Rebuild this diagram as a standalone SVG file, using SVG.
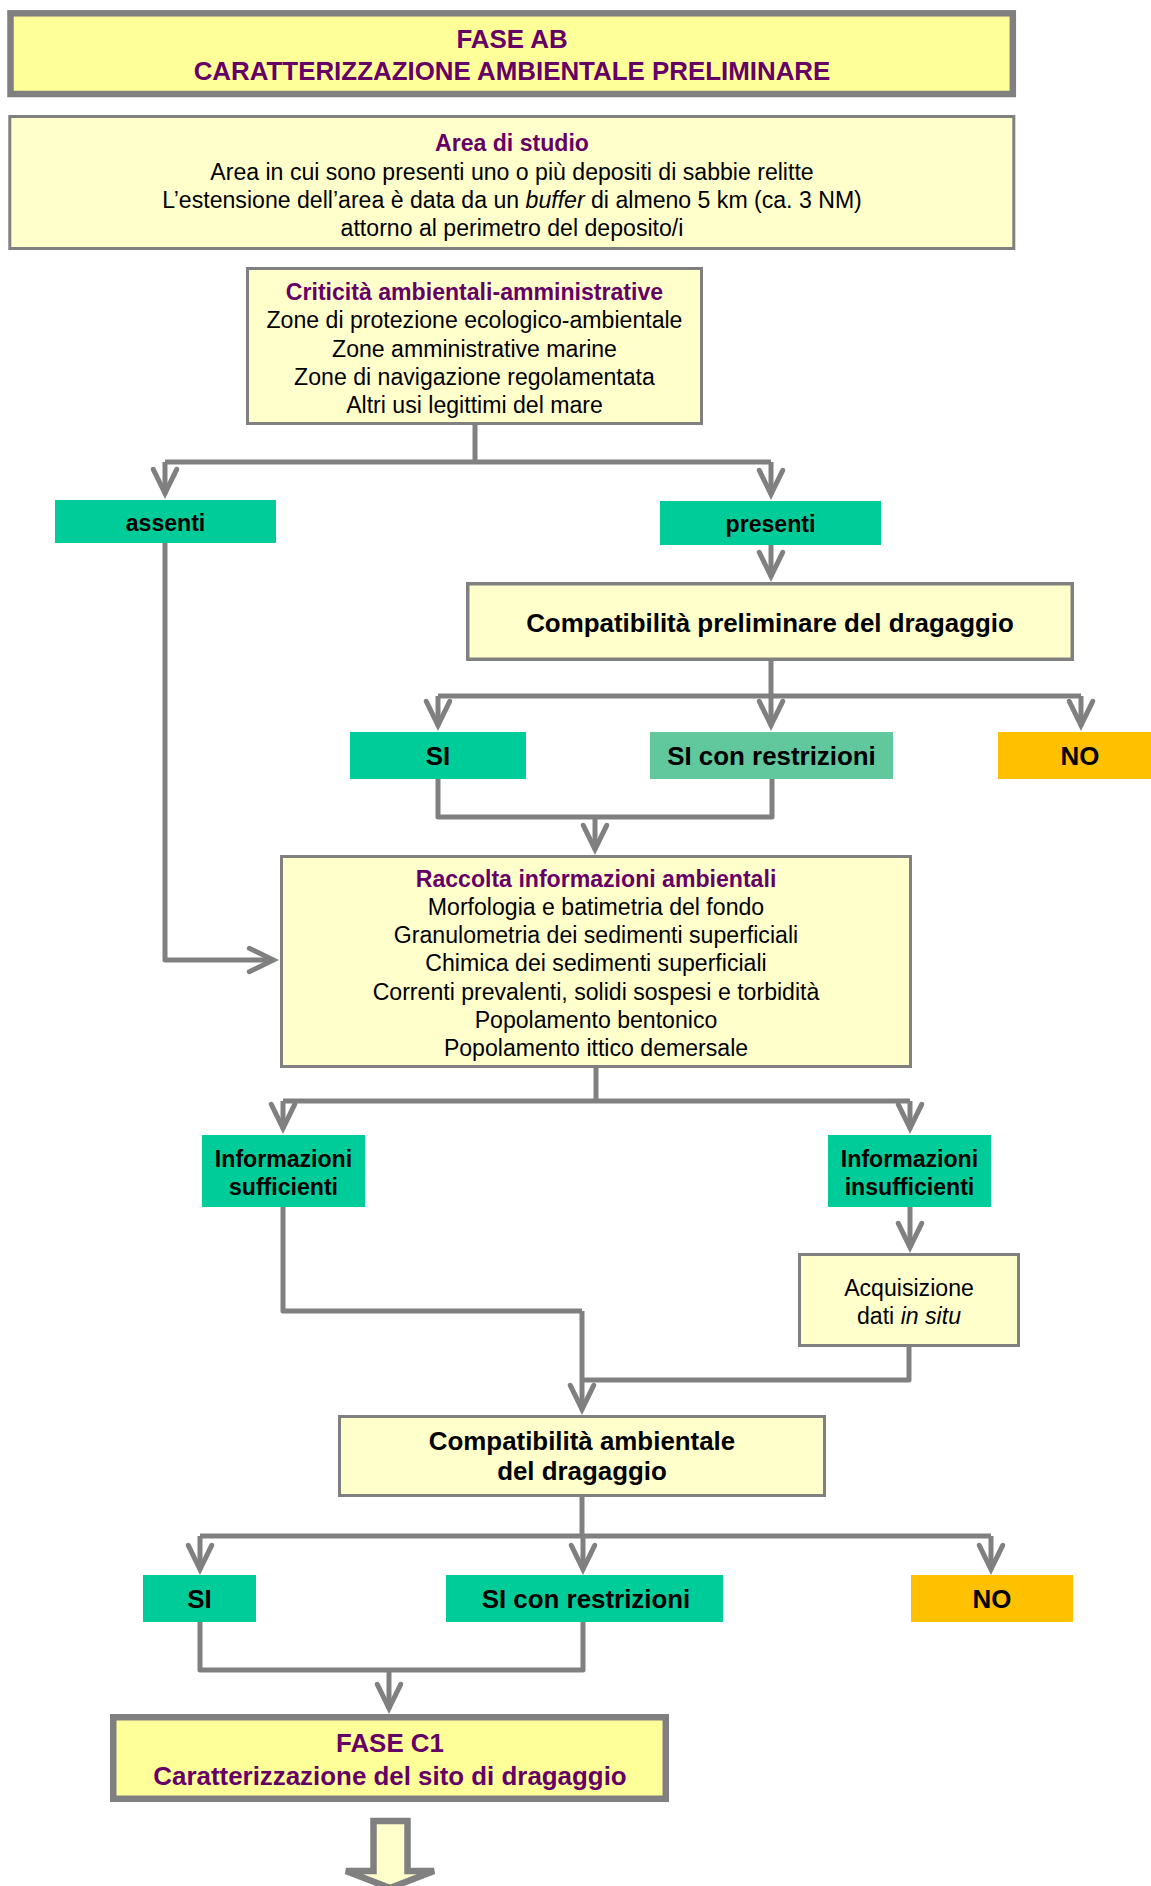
<svg xmlns="http://www.w3.org/2000/svg" width="1151" height="1886" viewBox="0 0 1151 1886">
<style>
text{font-family:"Liberation Sans",Arial,sans-serif;text-anchor:middle;fill:#000}
.b{font-weight:bold}
.p{fill:#660066}
.t{font-size:25.9px}
.r{font-size:23.1px}
.i{font-style:italic}
.big{fill:#FFFF99;stroke:#808080;stroke-width:6.5}
.box{fill:#FFFFCC;stroke:#808080;stroke-width:3}
.g{fill:#00CC99}
.lg{fill:#60C89C}
.o{fill:#FFC000}
.c{fill:none;stroke:#808080;stroke-width:5;stroke-linejoin:round}
.a{marker-end:url(#ah)}
</style>
<defs>
<marker id="ah" markerUnits="userSpaceOnUse" orient="auto" refX="0" refY="0" markerWidth="40" markerHeight="40" overflow="visible">
<path d="M-24.7,-11.7 L-0.7,0 L-24.7,11.7" fill="none" stroke="#808080" stroke-width="5" stroke-linecap="round" stroke-linejoin="miter"/>
</marker>
</defs>
<rect width="1151" height="1886" fill="#fff"/>

<g id="connectors">
<path class="c" d="M475,425 V462"/>
<path class="c" d="M165,462 H771"/>
<path class="c a" d="M165,462 V494"/>
<path class="c a" d="M771,462 V495"/>
<path class="c a" d="M771,545 V577"/>
<path class="c" d="M771,661 V696"/>
<path class="c" d="M438,696 H1081"/>
<path class="c a" d="M438,696 V726"/>
<path class="c a" d="M771,696 V726"/>
<path class="c a" d="M1081,696 V726"/>
<path class="c" d="M438,779 V817 H772 V779"/>
<path class="c a" d="M595,817 V850"/>
<path class="c a" d="M165,543 V960 H274"/>
<path class="c" d="M596,1068 V1101"/>
<path class="c" d="M283,1101 H910"/>
<path class="c a" d="M283,1101 V1129"/>
<path class="c a" d="M910,1101 V1129"/>
<path class="c a" d="M910,1207 V1248"/>
<path class="c" d="M283,1207 V1311 H582"/>
<path class="c a" d="M582,1311 V1410"/>
<path class="c" d="M909,1347 V1380 H582"/>
<path class="c" d="M582,1497 V1536"/>
<path class="c" d="M200,1536 H991"/>
<path class="c a" d="M200,1536 V1570"/>
<path class="c a" d="M583,1536 V1570"/>
<path class="c a" d="M991,1536 V1570"/>
<path class="c" d="M200,1622 V1670 H583 V1622"/>
<path class="c a" d="M389,1670 V1709"/>
</g>

<g id="fase-ab">
<rect class="big" x="10.5" y="13.3" width="1002.3" height="80.7"/>
<text class="b p t" x="512" y="48">FASE AB</text>
<text class="b p t" x="512" y="80">CARATTERIZZAZIONE AMBIENTALE PRELIMINARE</text>
</g>

<g id="area-studio">
<rect class="box" x="9.8" y="116.5" width="1004" height="132"/>
<text class="b p r" x="512" y="151">Area di studio</text>
<text class="r" x="512" y="180">Area in cui sono presenti uno o più depositi di sabbie relitte</text>
<text class="r" x="512" y="208">L’estensione dell’area è data da un <tspan class="i">buffer</tspan> di almeno 5 km (ca. 3 NM)</text>
<text class="r" x="512" y="236">attorno al perimetro del deposito/i</text>
</g>

<g id="criticita">
<rect class="box" x="247.5" y="268.5" width="454" height="155"/>
<text class="b p r" x="474.5" y="300">Criticità ambientali-amministrative</text>
<text class="r" x="474.5" y="328">Zone di protezione ecologico-ambientale</text>
<text class="r" x="474.5" y="357">Zone amministrative marine</text>
<text class="r" x="474.5" y="385">Zone di navigazione regolamentata</text>
<text class="r" x="474.5" y="413">Altri usi legittimi del mare</text>
</g>

<g id="assenti">
<rect class="g" x="55" y="500" width="221" height="43"/>
<text class="b r" x="165.5" y="530.5">assenti</text>
</g>

<g id="presenti">
<rect class="g" x="660" y="501" width="221" height="44"/>
<text class="b r" x="770.5" y="531.5">presenti</text>
</g>

<g id="compat-preliminare">
<rect class="box" x="467.75" y="583.75" width="604.5" height="75.5" style="stroke-width:3.5"/>
<text class="b t" x="770" y="632">Compatibilità preliminare del dragaggio</text>
</g>

<g id="si-1">
<rect class="g" x="350" y="732" width="176" height="47"/>
<text class="b t" x="438" y="765">SI</text>
</g>

<g id="si-restr-1">
<rect class="lg" x="650" y="732" width="243" height="47"/>
<text class="b t" x="771.5" y="765">SI con restrizioni</text>
</g>

<g id="no-1">
<rect class="o" x="998" y="732" width="164" height="47"/>
<text class="b t" x="1080" y="765">NO</text>
</g>

<g id="raccolta">
<rect class="box" x="281.5" y="856.5" width="629" height="210"/>
<text class="b p r" x="596" y="886.5">Raccolta informazioni ambientali</text>
<text class="r" x="596" y="914.5">Morfologia e batimetria del fondo</text>
<text class="r" x="596" y="943">Granulometria dei sedimenti superficiali</text>
<text class="r" x="596" y="971">Chimica dei sedimenti superficiali</text>
<text class="r" x="596" y="999.5">Correnti prevalenti, solidi sospesi e torbidità</text>
<text class="r" x="596" y="1028">Popolamento bentonico</text>
<text class="r" x="596" y="1056">Popolamento ittico demersale</text>
</g>

<g id="info-sufficienti">
<rect class="g" x="202" y="1135" width="163" height="72"/>
<text class="b r" x="283.5" y="1166.5">Informazioni</text>
<text class="b r" x="283.5" y="1195">sufficienti</text>
</g>

<g id="info-insufficienti">
<rect class="g" x="828" y="1135" width="163" height="72"/>
<text class="b r" x="909.5" y="1166.5">Informazioni</text>
<text class="b r" x="909.5" y="1195">insufficienti</text>
</g>

<g id="acquisizione">
<rect class="box" x="799.5" y="1254.5" width="219" height="91"/>
<text class="r" x="909" y="1296">Acquisizione</text>
<text class="r" x="909" y="1324">dati <tspan class="i">in situ</tspan></text>
</g>

<g id="compat-ambientale">
<rect class="box" x="339.5" y="1416.5" width="485" height="79"/>
<text class="b t" x="582" y="1450">Compatibilità ambientale</text>
<text class="b t" x="582" y="1480">del dragaggio</text>
</g>

<g id="si-2">
<rect class="g" x="143" y="1575" width="113" height="47"/>
<text class="b t" x="199.5" y="1608">SI</text>
</g>

<g id="si-restr-2">
<rect class="g" x="446" y="1575" width="277" height="47"/>
<text class="b t" x="586" y="1608">SI con restrizioni</text>
</g>

<g id="no-2">
<rect class="o" x="911" y="1575" width="162" height="47"/>
<text class="b t" x="992" y="1608">NO</text>
</g>

<g id="fase-c1">
<rect class="big" x="113.25" y="1717.25" width="552.5" height="81.5"/>
<text class="b p t" x="390" y="1752">FASE C1</text>
<text class="b p t" x="390" y="1785">Caratterizzazione del sito di dragaggio</text>
</g>

<g id="next-arrow">
<polygon points="373.5,1821 407.5,1821 407.5,1871 434,1871 390,1888 346,1871 373.5,1871" fill="#FFFFCC" stroke="#808080" stroke-width="6.5" stroke-linejoin="miter"/>
</g>
</svg>
